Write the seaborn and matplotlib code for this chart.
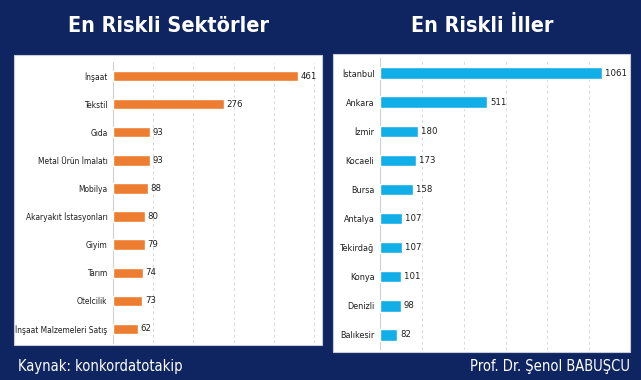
import matplotlib
matplotlib.use("Agg")
import matplotlib.pyplot as plt
import seaborn as sns
from matplotlib.patches import Rectangle

sectors = ["İnşaat", "Tekstil", "Gıda", "Metal Ürün İmalatı", "Mobilya",
           "Akaryakıt İstasyonları", "Giyim", "Tarım", "Otelcilik",
           "İnşaat Malzemeleri Satış"]
sector_counts = [461, 276, 93, 93, 88, 80, 79, 74, 73, 62]

cities = ["İstanbul", "Ankara", "İzmir", "Kocaeli", "Bursa", "Antalya",
          "Tekirdağ", "Konya", "Denizli", "Balıkesir"]
city_counts = [1061, 511, 180, 173, 158, 107, 107, 101, 98, 82]

NAVY = "#0f2562"
ORANGE = "#ed7d31"
BLUE = "#12aee8"
FONT = ["DejaVu Sans"]

sns.set_theme(style="white")
plt.rcParams["font.family"] = FONT
plt.rcParams["font.stretch"] = "condensed"

W, H = 641, 380
fig = plt.figure(figsize=(W / 100, H / 100), dpi=100, facecolor=NAVY)


def frac(x0, y0, x1, y1):
    # pixel box -> figure fraction [left, bottom, width, height]
    return [x0 / W, 1 - y1 / H, (x1 - x0) / W, (y1 - y0) / H]


# white panels behind the axes
for box in [(14, 55, 322, 345), (333, 54, 630, 352)]:
    l, b, w, h = frac(*box)
    fig.patches.append(Rectangle((l, b), w, h, transform=fig.transFigure,
                                 facecolor="white", edgecolor="#c8ccd6",
                                 linewidth=0.8, zorder=-5))


def bar_panel(box, labels, values, color, xmax, step, width, fs):
    ax = fig.add_axes(frac(*box))
    ax.set_facecolor("none")
    ax.set_zorder(2)
    sns.barplot(x=values, y=labels, color=color, orient="h", width=width,
                saturation=1, ax=ax, zorder=3)
    ax.set_xlim(0, xmax)
    ax.set_xticks(range(step, xmax, step))
    ax.xaxis.grid(True, linestyle=(0, (3, 3)), color="#d9d9d9", linewidth=0.7)
    ax.set_axisbelow(True)
    for s in ["top", "right", "bottom"]:
        ax.spines[s].set_visible(False)
    ax.spines["left"].set_color("#d0d0d0")
    ax.spines["left"].set_linewidth(0.8)
    ax.tick_params(axis="x", length=0, labelbottom=False)
    ax.tick_params(axis="y", length=0, pad=4, labelsize=fs, labelcolor="#1e1e1e")
    ax.set_xlabel("")
    ax.set_ylabel("")
    for i, v in enumerate(values):
        ax.text(v + xmax * 0.012, i, str(v), va="center", ha="left",
                fontsize=6.8, color="#1e1e1e")
    return ax


bar_panel((113, 62, 320, 343), sectors, sector_counts, ORANGE, 515, 100, 0.37, 6.0)
bar_panel((380, 58.5, 628, 349.5), cities, city_counts, BLUE, 1185, 200, 0.39, 6.5)

fig.text(168 / W, 1 - 26 / H, "En Riskli Sektörler", ha="center", va="center",
         color="white", fontsize=15.5, fontweight="bold")
fig.text(482 / W, 1 - 26 / H, "En Riskli İller", ha="center", va="center",
         color="white", fontsize=15.5, fontweight="bold")

fig.text(18 / W, 1 - 366 / H, "Kaynak: konkordatotakip", ha="left",
         va="center", color="white", fontsize=10.5)
fig.text(630 / W, 1 - 366 / H, "Prof. Dr. Şenol BABUŞCU", ha="right",
         va="center", color="white", fontsize=10.5)

fig.savefig("out.png", dpi=100, facecolor=NAVY)
